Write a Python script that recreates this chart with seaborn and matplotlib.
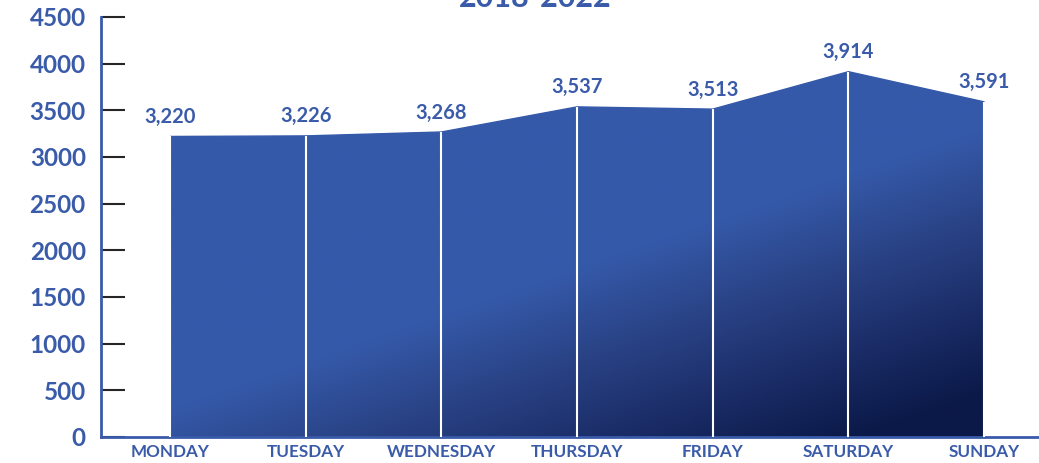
import numpy as np
import pandas as pd
import matplotlib.pyplot as plt
import seaborn as sns
from matplotlib.colors import LinearSegmentedColormap
from matplotlib.patches import Polygon

# data
days = ['MONDAY', 'TUESDAY', 'WEDNESDAY', 'THURSDAY', 'FRIDAY', 'SATURDAY', 'SUNDAY']
values = [3220, 3226, 3268, 3537, 3513, 3914, 3591]
y_ticks = [0, 500, 1000, 1500, 2000, 2500, 3000, 3500, 4000, 4500]
title = '2018-2022'

blue = '#3A5BAA'
fill_top = '#3559A9'
fill_dark = '#0B1948'

df = pd.DataFrame({'Day': days, 'Value': values, 'pos': range(len(days))})

sns.set_theme(style='white')
plt.rcParams['font.family'] = ['Lato', 'DejaVu Sans']

fig = plt.figure(figsize=(10.39, 4.63), dpi=100)
ax = fig.add_axes([101 / 1039, 26 / 463, 1 - 101 / 1039, 420 / 463])
ax.set_xlim(-0.51, 6.405)
ax.set_ylim(0, 4500)

# top edge of the area
sns.lineplot(data=df, x='pos', y='Value', color=fill_top, lw=1, ax=ax, zorder=2)

# area outline used to clip the gradient
verts = [(df.pos.iloc[0], 0)] + list(zip(df.pos, df.Value)) + [(df.pos.iloc[-1], 0)]
area = Polygon(verts, closed=True, facecolor='none', edgecolor='none', transform=ax.transData)
ax.add_patch(area)

# diagonal gradient, light blue upper-left to navy lower-right
x0, x1 = df.pos.min(), df.pos.max()
ytop = max(values)
X, Y = np.meshgrid(np.linspace(x0, x1, 500), np.linspace(0, ytop, 400))
pts = ax.transData.transform(np.column_stack([X.ravel(), Y.ravel()]))
a = ax.transData.transform((x0, 0))
b = ax.transData.transform((x1, 3000))
c = ax.transData.transform((x1, 0))
d = b - a
n = np.array([d[1], -d[0]])
n = n / np.linalg.norm(n)
L = (c - a) @ n
t = ((pts - a) @ n + 0.1 * L) / (0.95 * L)
t = np.clip(t, 0, 1).reshape(X.shape)
cmap = LinearSegmentedColormap.from_list('area', [fill_top, '#2A4386', '#1B2D68', fill_dark])
im = ax.imshow(cmap(t), extent=[x0, x1, 0, ytop], origin='lower', aspect='auto',
               interpolation='bilinear', zorder=1)
im.set_clip_path(area)
ax.set_xlim(-0.51, 6.405)
ax.set_ylim(0, 4500)

# white separators at each day
ax.vlines(df.pos, 0, df.Value, color='white', lw=1.5, zorder=3)

# value labels
for x, v in zip(df.pos, df.Value):
    ax.annotate(f'{v:,}', (x, v), xytext=(0, 14), textcoords='offset points',
                ha='center', va='center', color=blue, fontsize=14.5, fontweight='bold')

ax.set_xticks(df.pos, days)
ax.set_yticks(y_ticks)
ax.set_xlabel('')
ax.set_ylabel('')
ax.tick_params(axis='y', direction='in', length=17, width=1.5, pad=11,
               labelsize=17.5, labelcolor=blue, left=True)
ax.tick_params(axis='x', length=0, pad=5, labelsize=12.3, labelcolor=blue)
for lab in ax.get_xticklabels() + ax.get_yticklabels():
    lab.set_fontweight('bold')
tick_colors = [blue, blue, blue, blue, blue, blue, 'black', 'black', blue, 'black']
for tk, col in zip(ax.yaxis.get_major_ticks(), tick_colors):
    tk.tick1line.set_color(col)

sns.despine(ax=ax)
for side in ['left', 'bottom']:
    ax.spines[side].set_color(blue)
    ax.spines[side].set_linewidth(2)

fig.text(535 / 1039, 1 - 7 / 463, title, ha='center', va='baseline',
         fontsize=22, color=blue, fontweight='bold')

fig.savefig('out.png', dpi=100)
